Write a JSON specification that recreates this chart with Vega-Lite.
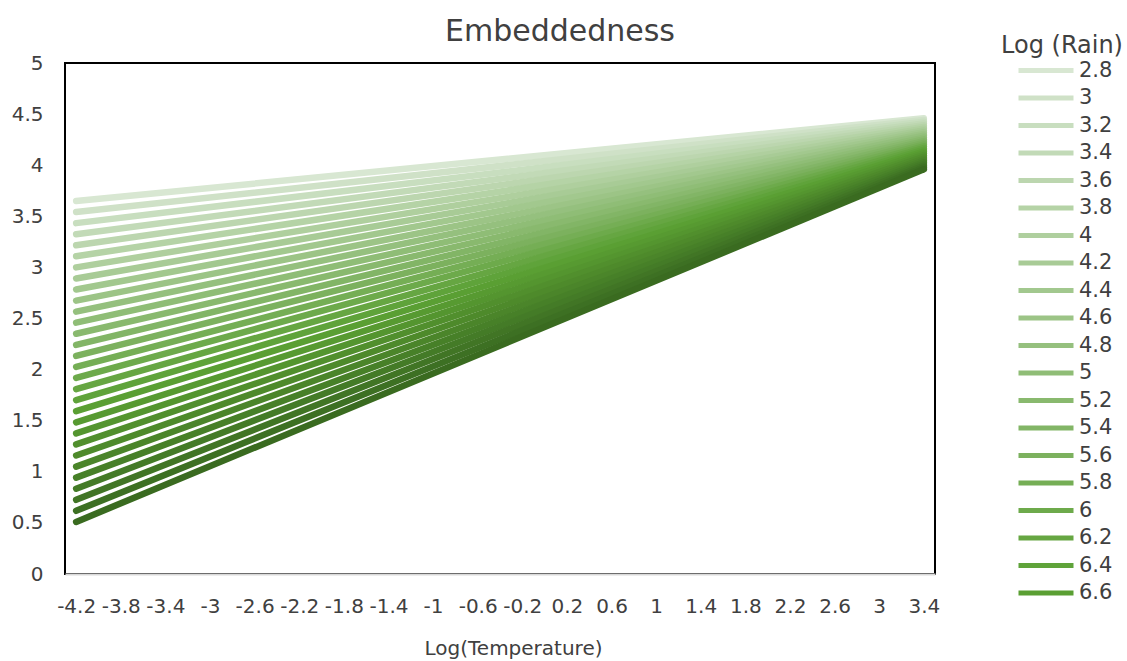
{
  "$schema": "https://vega.github.io/schema/vega-lite/v6.json",
  "width": 870,
  "height": 511,
  "autosize": {"type": "none"},
  "padding": {"left": 65, "top": 63, "right": 192, "bottom": 87},
  "background": "#ffffff",
  "config": {
    "font": "DejaVu Sans",
    "view": {"stroke": "#000000", "strokeWidth": 2},
    "axis": {"grid": false, "ticks": false, "labelFont": "DejaVu Sans", "labelFontSize": 20, "labelColor": "#404040", "titleFont": "DejaVu Sans", "titleFontWeight": "normal", "titleColor": "#404040"},
    "legend": {"labelFont": "DejaVu Sans", "titleFont": "DejaVu Sans"}
  },
  "title": {"text": "Embeddedness", "fontSize": 30, "fontWeight": "normal", "color": "#404040", "font": "DejaVu Sans", "anchor": "middle", "dx": 60, "offset": -13},
  "data": {"values": [
    {"t": -4.2, "rain": 2.8, "e": 3.65}, {"t": 3.4, "rain": 2.8, "e": 4.46},
    {"t": -4.2, "rain": 3, "e": 3.542}, {"t": 3.4, "rain": 3, "e": 4.443},
    {"t": -4.2, "rain": 3.2, "e": 3.433}, {"t": 3.4, "rain": 3.2, "e": 4.426},
    {"t": -4.2, "rain": 3.4, "e": 3.325}, {"t": 3.4, "rain": 3.4, "e": 4.408},
    {"t": -4.2, "rain": 3.6, "e": 3.217}, {"t": 3.4, "rain": 3.6, "e": 4.391},
    {"t": -4.2, "rain": 3.8, "e": 3.109}, {"t": 3.4, "rain": 3.8, "e": 4.374},
    {"t": -4.2, "rain": 4, "e": 3.0}, {"t": 3.4, "rain": 4, "e": 4.357},
    {"t": -4.2, "rain": 4.2, "e": 2.892}, {"t": 3.4, "rain": 4.2, "e": 4.339},
    {"t": -4.2, "rain": 4.4, "e": 2.784}, {"t": 3.4, "rain": 4.4, "e": 4.322},
    {"t": -4.2, "rain": 4.6, "e": 2.675}, {"t": 3.4, "rain": 4.6, "e": 4.305},
    {"t": -4.2, "rain": 4.8, "e": 2.567}, {"t": 3.4, "rain": 4.8, "e": 4.288},
    {"t": -4.2, "rain": 5, "e": 2.459}, {"t": 3.4, "rain": 5, "e": 4.27},
    {"t": -4.2, "rain": 5.2, "e": 2.351}, {"t": 3.4, "rain": 5.2, "e": 4.253},
    {"t": -4.2, "rain": 5.4, "e": 2.242}, {"t": 3.4, "rain": 5.4, "e": 4.236},
    {"t": -4.2, "rain": 5.6, "e": 2.134}, {"t": 3.4, "rain": 5.6, "e": 4.219},
    {"t": -4.2, "rain": 5.8, "e": 2.026}, {"t": 3.4, "rain": 5.8, "e": 4.201},
    {"t": -4.2, "rain": 6, "e": 1.918}, {"t": 3.4, "rain": 6, "e": 4.184},
    {"t": -4.2, "rain": 6.2, "e": 1.809}, {"t": 3.4, "rain": 6.2, "e": 4.167},
    {"t": -4.2, "rain": 6.4, "e": 1.701}, {"t": 3.4, "rain": 6.4, "e": 4.15},
    {"t": -4.2, "rain": 6.6, "e": 1.593}, {"t": 3.4, "rain": 6.6, "e": 4.132},
    {"t": -4.2, "rain": 6.8, "e": 1.484}, {"t": 3.4, "rain": 6.8, "e": 4.115},
    {"t": -4.2, "rain": 7, "e": 1.376}, {"t": 3.4, "rain": 7, "e": 4.098},
    {"t": -4.2, "rain": 7.2, "e": 1.268}, {"t": 3.4, "rain": 7.2, "e": 4.081},
    {"t": -4.2, "rain": 7.4, "e": 1.16}, {"t": 3.4, "rain": 7.4, "e": 4.063},
    {"t": -4.2, "rain": 7.6, "e": 1.051}, {"t": 3.4, "rain": 7.6, "e": 4.046},
    {"t": -4.2, "rain": 7.8, "e": 0.943}, {"t": 3.4, "rain": 7.8, "e": 4.029},
    {"t": -4.2, "rain": 8, "e": 0.835}, {"t": 3.4, "rain": 8, "e": 4.012},
    {"t": -4.2, "rain": 8.2, "e": 0.726}, {"t": 3.4, "rain": 8.2, "e": 3.994},
    {"t": -4.2, "rain": 8.4, "e": 0.618}, {"t": 3.4, "rain": 8.4, "e": 3.977},
    {"t": -4.2, "rain": 8.6, "e": 0.51}, {"t": 3.4, "rain": 8.6, "e": 3.96}
  ]},
  "mark": {"type": "line", "strokeWidth": 6.5, "strokeCap": "round"},
  "encoding": {
    "x": {
      "field": "t", "type": "quantitative",
      "scale": {"domain": [-4.3, 3.5], "nice": false, "zero": false},
      "axis": {
        "title": "Log(Temperature)", "titleFontSize": 20, "titlePadding": 22, "titleX": 448,
        "values": [-4.2, -3.8, -3.4, -3, -2.6, -2.2, -1.8, -1.4, -1, -0.6, -0.2, 0.2, 0.6, 1, 1.4, 1.8, 2.2, 2.6, 3, 3.4],
        "labelExpr": "datum.value + ''",
        "labelPadding": 22,
        "labelOverlap": false,
        "domainColor": "#d9d9d9", "domainWidth": 2
      }
    },
    "y": {
      "field": "e", "type": "quantitative",
      "scale": {"domain": [0, 5], "nice": false},
      "axis": {
        "title": null,
        "values": [0, 0.5, 1, 1.5, 2, 2.5, 3, 3.5, 4, 4.5, 5],
        "labelExpr": "datum.value + ''",
        "labelPadding": 22,
        "domain": false
      }
    },
    "color": {
      "field": "rain", "type": "ordinal",
      "scale": {
        "domain": [2.8, 3, 3.2, 3.4, 3.6, 3.8, 4, 4.2, 4.4, 4.6, 4.8, 5, 5.2, 5.4, 5.6, 5.8, 6, 6.2, 6.4, 6.6, 6.8, 7, 7.2, 7.4, 7.6, 7.8, 8, 8.2, 8.4, 8.6],
        "range": ["#d8e7d2", "#cfe1c7", "#c8debf", "#c2dab7", "#bcd6af", "#b5d3a6", "#afcf9e", "#a8cb96", "#a2c88e", "#9cc486", "#95c07e", "#8fbd76", "#89b96e", "#82b566", "#7cb15e", "#75ae55", "#6daa4b", "#66a642", "#5fa33a", "#5a9f33", "#579a31", "#54952f", "#518f2d", "#4e8a2b", "#4b852a", "#478028", "#447b27", "#417525", "#3d7023", "#3a6b20"]
      },
      "legend": {
        "title": "Log (Rain)",
        "values": [2.8, 3, 3.2, 3.4, 3.6, 3.8, 4, 4.2, 4.4, 4.6, 4.8, 5, 5.2, 5.4, 5.6, 5.8, 6, 6.2, 6.4, 6.6],
        "orient": "none", "legendX": 936, "legendY": -29,
        "titleFontSize": 24, "titleFontWeight": "normal", "titleColor": "#404040", "titleAnchor": "middle", "titlePadding": 0,
        "labelFontSize": 21, "labelColor": "#404040", "labelOffset": 3,
        "symbolType": "stroke", "symbolSize": 3025, "symbolStrokeWidth": 5, "symbolOffset": 5,
        "clipHeight": 25, "rowPadding": 2.5
      }
    }
  }
}
